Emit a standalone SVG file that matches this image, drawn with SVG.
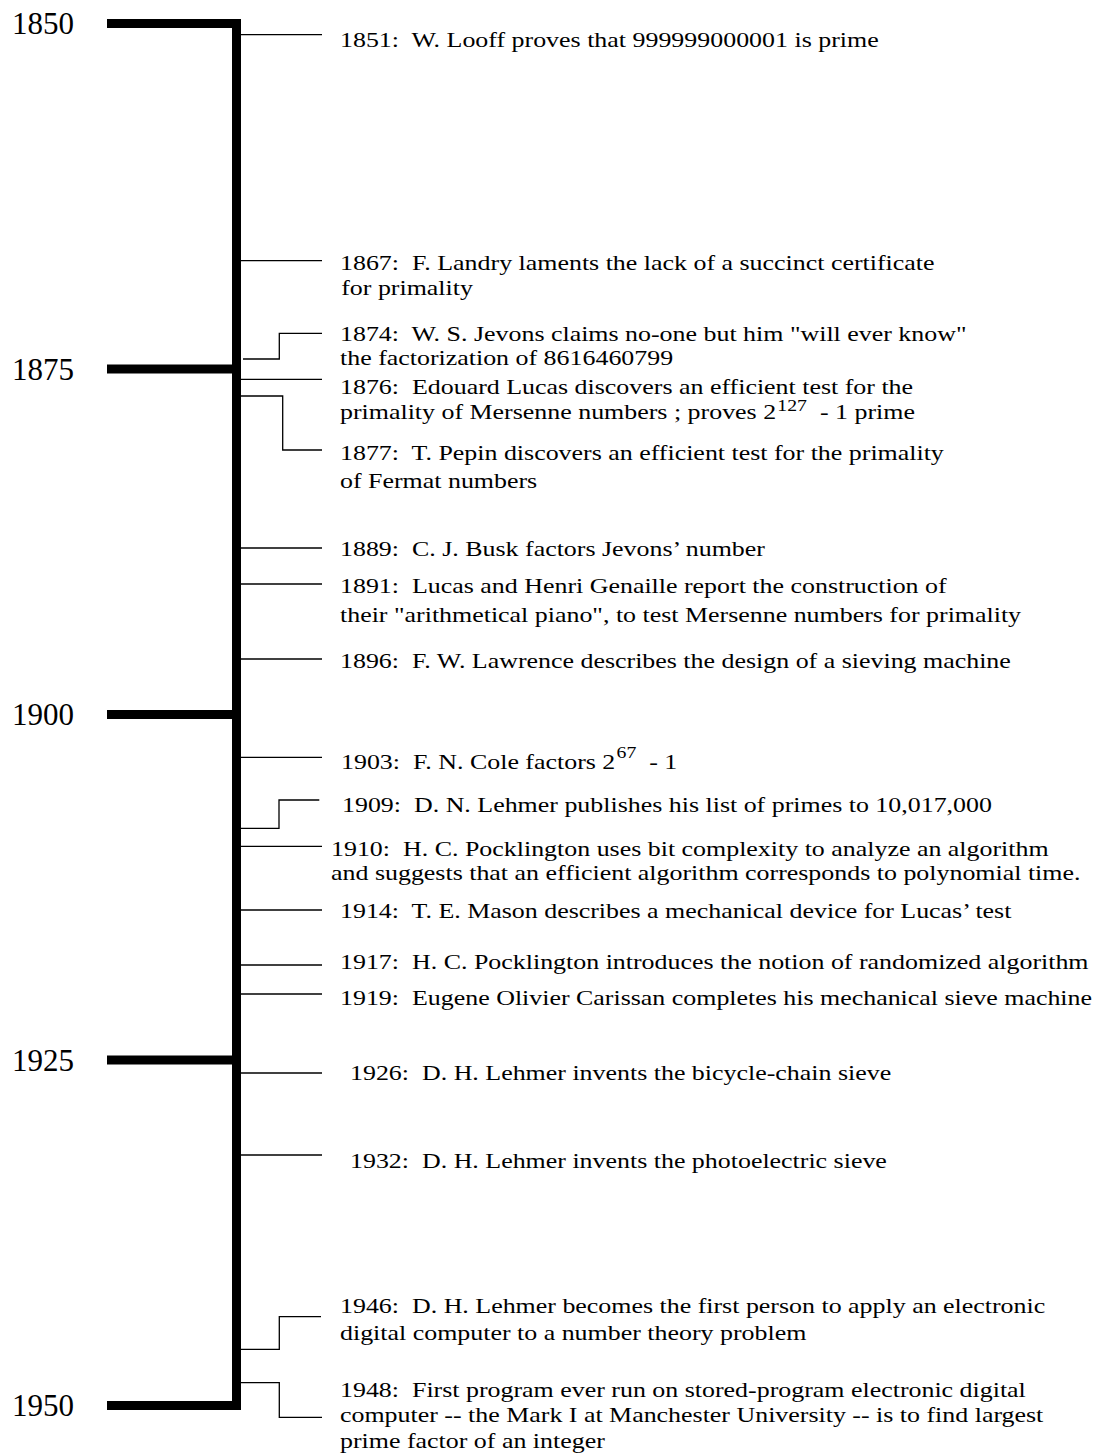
<svg xmlns="http://www.w3.org/2000/svg" width="1094" height="1454" viewBox="0 0 1094 1454" xml:space="preserve">
<style>
text { font-family: "Liberation Serif", "Times New Roman", serif; fill: #000; white-space: pre; }
.yr { font-size: 31px; }
.ev { font-size: 21px; }
.sup { font-size: 16px; }
.axis { fill: none; stroke: #000; stroke-width: 9; stroke-linejoin: miter; stroke-linecap: butt; }
.con { fill: none; stroke: #000; stroke-width: 1.3; }
</style>
<rect width="1094" height="1454" fill="#fff"/>
<g id="axis">
<path class="axis" d="M107,23.5 H236.5 V1405.5 H107"/>
<path class="axis" d="M107,369 H236.5"/>
<path class="axis" d="M107,714.5 H236.5"/>
<path class="axis" d="M107,1060 H236.5"/>
</g>
<g id="years">
<g id="y1850"><text class="yr" x="12" y="34">1850</text></g>
<g id="y1875"><text class="yr" x="12" y="379.5">1875</text></g>
<g id="y1900"><text class="yr" x="12" y="725">1900</text></g>
<g id="y1925"><text class="yr" x="12" y="1070.5">1925</text></g>
<g id="y1950"><text class="yr" x="12" y="1416">1950</text></g>
</g>
<g id="connectors">
<path class="con" d="M241,34.7 H322"/>
<path class="con" d="M241,260.7 H322"/>
<path class="con" d="M243,359 H279.3 V333.3 H322"/>
<path class="con" d="M241,379.3 H322"/>
<path class="con" d="M241,396 H282.7 V450 H322"/>
<path class="con" d="M241,548 H322"/>
<path class="con" d="M241,584 H322"/>
<path class="con" d="M241,659 H322"/>
<path class="con" d="M241,757.3 H322"/>
<path class="con" d="M241,828.3 H279 V800 H319.3"/>
<path class="con" d="M241,846.3 H322"/>
<path class="con" d="M241,910 H322"/>
<path class="con" d="M241,965 H322"/>
<path class="con" d="M241,994 H322"/>
<path class="con" d="M241,1073 H322"/>
<path class="con" d="M241,1155 H322"/>
<path class="con" d="M241,1349.3 H279.3 V1316.7 H321"/>
<path class="con" d="M241,1382.7 H279.3 V1417.3 H322"/>
</g>
<g id="events">
<g id="e1851"><text class="ev" transform="translate(340,47) scale(1.235,1)">1851:  W. Looff proves that 999999000001 is prime</text></g>
<g id="e1867"><text class="ev" transform="translate(340,270) scale(1.235,1)"><tspan x="0" y="0">1867:  F. Landry laments the lack of a succinct certificate</tspan><tspan x="1" y="25">for primality</tspan></text></g>
<g id="e1874"><text class="ev" transform="translate(340,341) scale(1.235,1)"><tspan x="0" y="0">1874:  W. S. Jevons claims no-one but him "will ever know"</tspan><tspan x="0" y="24">the factorization of 8616460799</tspan></text></g>
<g id="e1876"><text class="ev" transform="translate(340,394) scale(1.235,1)"><tspan x="0" y="0">1876:  Edouard Lucas discovers an efficient test for the</tspan></text><text class="ev" transform="translate(340,419) scale(1.235,1)">primality of Mersenne numbers ; proves 2<tspan class="sup" dx="1" dy="-8">127</tspan><tspan dy="8">  - 1 prime</tspan></text></g>
<g id="e1877"><text class="ev" transform="translate(340,460) scale(1.235,1)"><tspan x="0" y="0">1877:  T. Pepin discovers an efficient test for the primality</tspan><tspan x="0" y="28">of Fermat numbers</tspan></text></g>
<g id="e1889"><text class="ev" transform="translate(340,555.5) scale(1.235,1)">1889:  C. J. Busk factors Jevons’ number</text></g>
<g id="e1891"><text class="ev" transform="translate(340,592.5) scale(1.235,1)"><tspan x="0" y="0">1891:  Lucas and Henri Genaille report the construction of</tspan><tspan x="0" y="30">their "arithmetical piano", to test Mersenne numbers for primality</tspan></text></g>
<g id="e1896"><text class="ev" transform="translate(340,667.5) scale(1.235,1)">1896:  F. W. Lawrence describes the design of a sieving machine</text></g>
<g id="e1903"><text class="ev" transform="translate(341,769) scale(1.235,1)">1903:  F. N. Cole factors 2<tspan class="sup" dx="1" dy="-11">67</tspan><tspan dy="11">  - 1</tspan></text></g>
<g id="e1909"><text class="ev" transform="translate(342,812) scale(1.235,1)">1909:  D. N. Lehmer publishes his list of primes to 10,017,000</text></g>
<g id="e1910"><text class="ev" transform="translate(331,856) scale(1.235,1)"><tspan x="0" y="0">1910:  H. C. Pocklington uses bit complexity to analyze an algorithm</tspan><tspan x="0" y="24">and suggests that an efficient algorithm corresponds to polynomial time.</tspan></text></g>
<g id="e1914"><text class="ev" transform="translate(340,918) scale(1.235,1)">1914:  T. E. Mason describes a mechanical device for Lucas’ test</text></g>
<g id="e1917"><text class="ev" transform="translate(340,969) scale(1.235,1)">1917:  H. C. Pocklington introduces the notion of randomized algorithm</text></g>
<g id="e1919"><text class="ev" transform="translate(340,1005) scale(1.235,1)">1919:  Eugene Olivier Carissan completes his mechanical sieve machine</text></g>
<g id="e1926"><text class="ev" transform="translate(350,1080) scale(1.235,1)">1926:  D. H. Lehmer invents the bicycle-chain sieve</text></g>
<g id="e1932"><text class="ev" transform="translate(350,1168) scale(1.235,1)">1932:  D. H. Lehmer invents the photoelectric sieve</text></g>
<g id="e1946"><text class="ev" transform="translate(340,1313) scale(1.235,1)"><tspan x="0" y="0">1946:  D. H. Lehmer becomes the first person to apply an electronic</tspan><tspan x="0" y="27">digital computer to a number theory problem</tspan></text></g>
<g id="e1948"><text class="ev" transform="translate(340,1396.5) scale(1.235,1)"><tspan x="0" y="0">1948:  First program ever run on stored-program electronic digital</tspan><tspan x="0" y="25.5">computer -- the Mark I at Manchester University -- is to find largest</tspan><tspan x="0" y="51.5">prime factor of an integer</tspan></text></g>
</g>
</svg>
